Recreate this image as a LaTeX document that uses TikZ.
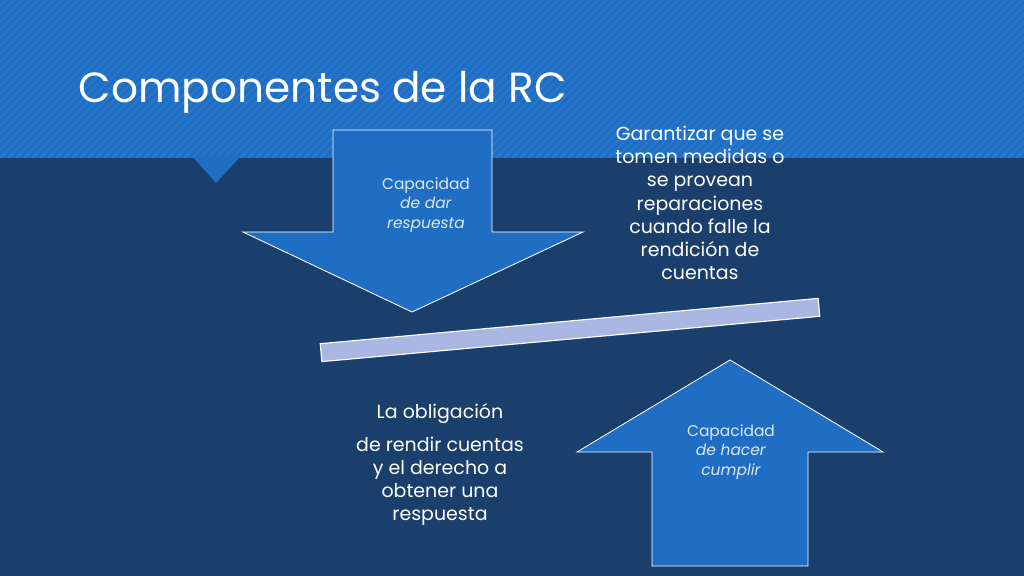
\documentclass[tikz,border=0pt]{standalone}
\usepackage{fontspec}
\setmainfont{Poppins}
\usetikzlibrary{positioning}
\definecolor{rcNavy}{HTML}{1B3F6D}
\definecolor{rcBlue}{HTML}{1F6EC4}
\definecolor{rcStripe}{HTML}{2A78CC}
\definecolor{rcBar}{HTML}{AAB7E2}
\definecolor{rcText}{HTML}{DCE8F8}
\tikzset{
    bigarrow/.style={
        draw=white,
        fill=rcBlue,
        line width=0.6pt
    },
    beam/.style={
        draw=white,
        fill=rcBar,
        line width=0.8pt
    },
    arrowtext/.style={
        align=center,
        text=rcText,
        font=\fontsize{11}{14}\selectfont
    },
    bodytext/.style={
        align=center,
        text=white,
        font=\fontsize{13.5}{16.5}\selectfont
    }
}
\begin{document}
\begin{tikzpicture}[x=0.025cm,y=-0.025cm]
    \useasboundingbox (0,0) rectangle (1024,576);
    \fill[rcNavy] (0,0) rectangle (1024,576);
    % striped header
    \fill[rcBlue] (0,0) rectangle (1024,158);
    \begin{scope}
        \clip (0,0) rectangle (1024,158);
        \foreach \i in {-200,-192,...,1100}
            \draw[rcStripe, line width=1.2pt] (\i,158) -- (\i+158,0);
    \end{scope}
    \fill[rcBlue] (193,157) -- (240,157) -- (216,183) -- cycle;
    \node[anchor=west, text=white, font=\fontsize{30}{34}\selectfont] (title) at (74,92) {Componentes de la RC};
    % arrows and beam
    \draw[bigarrow] (333,130) -- (492,130) -- (492,232) -- (583,232) -- (412,312)
        -- (243,232) -- (333,232) -- cycle;
    \draw[bigarrow] (652,566) -- (652,452) -- (577,452) -- (730,360) -- (883,452)
        -- (808,452) -- (808,566) -- cycle;
    \draw[beam, rotate around={5.2:(570,330)}] (320,321) rectangle (820,339);
    % texts
    \node[arrowtext] (give) at (426,205) {Capacidad\\\textit{de dar}\\\textit{respuesta}};
    \node[arrowtext] (enforce) at (731,452) {Capacidad\\\textit{de hacer}\\\textit{cumplir}};
    \node[bodytext] (guarantee) at (700,203) {Garantizar que se\\tomen medidas o\\se provean\\reparaciones\\cuando falle la\\rendición de\\cuentas};
    \node[bodytext] (duty) at (440,414) {La obligación};
    \node[bodytext, below=2pt of duty] (right) {de rendir cuentas\\y el derecho a\\obtener una\\respuesta};
\end{tikzpicture}
\end{document}
